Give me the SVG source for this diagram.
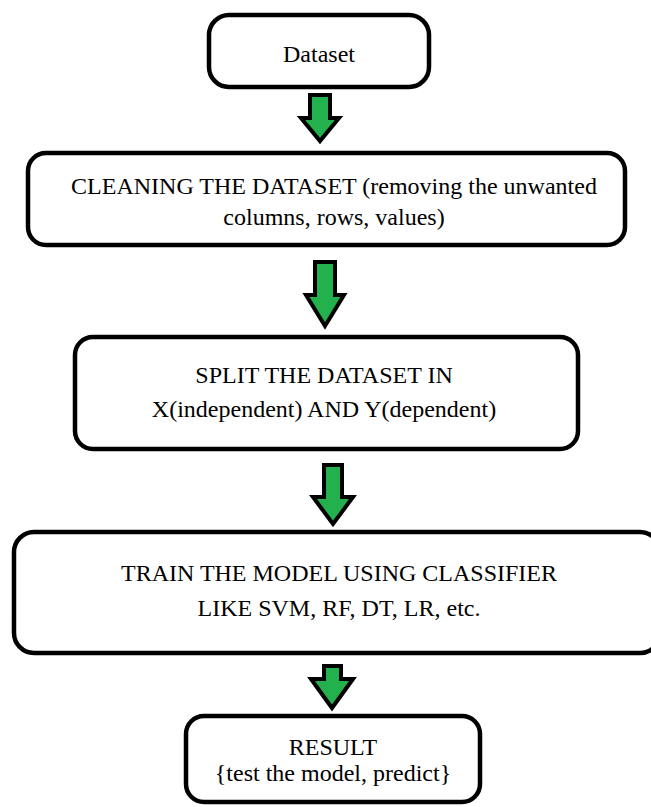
<svg xmlns="http://www.w3.org/2000/svg" width="651" height="807" viewBox="0 0 651 807">
  <style>
    .box { fill: #ffffff; stroke: #000000; stroke-width: 4.5; }
    .label { font-family: "Liberation Serif", "Times New Roman", serif; font-size: 24px; fill: #000000; text-anchor: middle; }
    .arrow { fill: #22b14c; stroke: #000000; stroke-width: 4; stroke-linejoin: miter; }
  </style>
  <rect width="651" height="807" fill="#ffffff"/>

  <!-- flow connectors: block arrows between stages -->
  <g id="connectors">
    <polygon class="arrow" points="310,95 330,95 330,118 339,118 320,141 301,118 310,118"/>
    <polygon class="arrow" points="315,262 335,262 335,295 344,295 325,326 306,295 315,295"/>
    <polygon class="arrow" points="324,465 342,465 342,497 353,497 333,524 313,497 324,497"/>
    <polygon class="arrow" points="324,666 341,666 341,679 353,679 332,708 311,679 324,679"/>
  </g>

  <g id="dataset">
    <rect class="box" x="209" y="15" width="220" height="72" rx="20" ry="20"/>
    <text class="label" x="319" y="62">Dataset</text>
  </g>

  <g id="cleaning">
    <rect class="box" x="28" y="153" width="597" height="92" rx="18" ry="18"/>
    <text class="label" x="334" y="194">CLEANING THE DATASET (removing the unwanted</text>
    <text class="label" x="334" y="225">columns, rows, values)</text>
  </g>

  <g id="split">
    <rect class="box" x="75" y="337" width="503" height="112" rx="18" ry="18"/>
    <text class="label" x="324" y="383">SPLIT THE DATASET IN</text>
    <text class="label" x="324" y="417">X(independent) AND Y(dependent)</text>
  </g>

  <g id="train">
    <rect class="box" x="14" y="532" width="646" height="121" rx="20" ry="20"/>
    <text class="label" x="339" y="581">TRAIN THE MODEL USING CLASSIFIER</text>
    <text class="label" x="339" y="616">LIKE SVM, RF, DT, LR, etc.</text>
  </g>

  <g id="result">
    <rect class="box" x="186" y="716" width="294" height="86" rx="18" ry="18"/>
    <text class="label" x="333" y="755">RESULT</text>
    <text class="label" x="333" y="781">{test the model, predict}</text>
  </g>
</svg>
